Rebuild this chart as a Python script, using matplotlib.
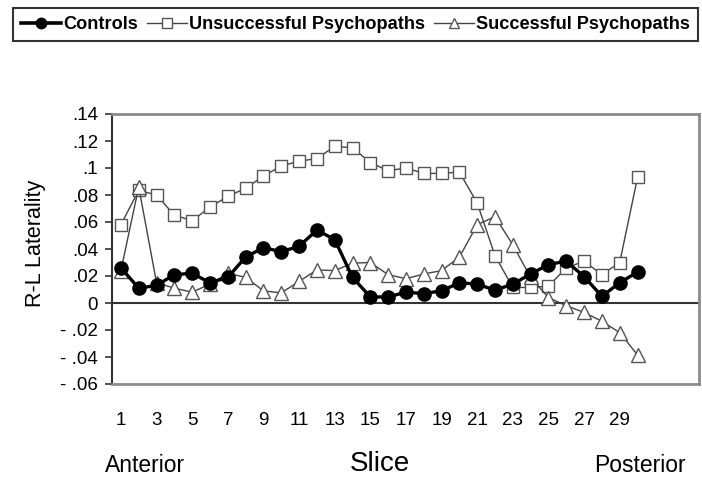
import matplotlib
matplotlib.use("Agg")
import matplotlib.pyplot as plt
from matplotlib.lines import Line2D
from matplotlib import font_manager

plt.rcParams['font.family'] = ['Liberation Sans', 'DejaVu Sans']

slices = list(range(1, 31))
controls = [0.026, 0.011, 0.013, 0.021, 0.022, 0.015, 0.019, 0.034, 0.041, 0.038,
            0.042, 0.054, 0.047, 0.019, 0.0045, 0.0045, 0.008, 0.007, 0.009, 0.015,
            0.014, 0.0095, 0.014, 0.0215, 0.0285, 0.031, 0.0195, 0.005, 0.015, 0.023]
unsuccessful = [0.058, 0.0835, 0.080, 0.065, 0.061, 0.071, 0.079, 0.085, 0.094, 0.1015,
                0.105, 0.107, 0.116, 0.115, 0.104, 0.098, 0.100, 0.096, 0.096, 0.097,
                0.074, 0.035, 0.0115, 0.0115, 0.0125, 0.026, 0.031, 0.021, 0.030, 0.093]
successful = [0.024, 0.086, 0.015, 0.011, 0.008, 0.014, 0.022, 0.019, 0.009, 0.0075,
              0.016, 0.0245, 0.024, 0.0295, 0.030, 0.021, 0.018, 0.0215, 0.024, 0.034,
              0.058, 0.064, 0.043, 0.019, 0.004, -0.002, -0.007, -0.0135, -0.022, -0.0385]
series_names = ["Controls", "Unsuccessful Psychopaths", "Successful Psychopaths"]
x_tick_values = list(range(1, 30, 2))
y_tick_values = [-0.06, -0.04, -0.02, 0, 0.02, 0.04, 0.06, 0.08, 0.10, 0.12, 0.14]
y_tick_labels = ['- .06', '- .04', '- .02', '0', '.02', '.04', '.06', '.08', '.1', '.12', '.14']

# pick a narrow font for the legend if installed
narrow_ok = False
try:
    fp = font_manager.findfont(font_manager.FontProperties(family='Liberation Sans Narrow', weight='bold'),
                               fallback_to_default=False)
    narrow_ok = 'Narrow' in fp
except Exception:
    narrow_ok = False
if narrow_ok:
    leg_prop = {'family': 'Liberation Sans Narrow', 'weight': 'bold', 'size': 15.8}
else:
    leg_prop = {'family': 'Liberation Sans', 'weight': 'bold', 'size': 13.1}

fig = plt.figure(figsize=(7.02, 4.78), dpi=100)
ax = fig.add_axes([112/702, 1-384/478, (699-112)/702, (384-114)/478])

gray_edge = '#555555'
ax.plot(slices, unsuccessful, color='#444444', lw=1.0, marker='s', ms=8.5,
        mfc='white', mec=gray_edge, mew=1.0, zorder=3)
ax.plot(slices, successful, color='#444444', lw=1.0, marker='^', ms=9.5,
        mfc='white', mec=gray_edge, mew=1.0, zorder=4)
ax.plot(slices, controls, color='black', lw=2.4, marker='o', ms=9.5,
        mfc='black', mec='black', zorder=5)

ax.axhline(0, color='#333333', lw=1.5, zorder=2)

ax.set_xlim(0.5, 33.45)
ax.set_ylim(-0.06, 0.14)
ax.set_yticks(y_tick_values)
ax.set_yticklabels(y_tick_labels, fontsize=13.5)
ax.set_xticks(x_tick_values)
ax.set_xticklabels([str(v) for v in x_tick_values], fontsize=13.5)
ax.tick_params(axis='x', length=0, pad=20)
ax.tick_params(axis='y', length=5, width=1.2, direction='out', pad=5, color='#333333')

for side in ['top', 'right', 'bottom']:
    ax.spines[side].set_color('#8c8c8c')
    ax.spines[side].set_linewidth(2.0)
ax.spines['left'].set_color('#333333')
ax.spines['left'].set_linewidth(1.5)

ax.set_ylabel('R-L Laterality', fontsize=15.5)
ax.yaxis.set_label_coords(-0.112, 0.52)

fig.text(105/702, 1-465/478, 'Anterior', fontsize=16.5, ha='left', va='center')
fig.text(380/702, 1-464/478, 'Slice', fontsize=20, ha='center', va='center')
fig.text(686/702, 1-465/478, 'Posterior', fontsize=16.5, ha='right', va='center')

handles = [
    Line2D([], [], color='black', lw=2.6, marker='o', ms=7.5, mfc='black', mec='black'),
    Line2D([], [], color='#444444', lw=1.0, marker='s', ms=6.5, mfc='white', mec=gray_edge),
    Line2D([], [], color='#444444', lw=1.0, marker='^', ms=7.5, mfc='white', mec=gray_edge),
]
leg = fig.legend(handles, series_names, loc='upper left', bbox_to_anchor=(13/702, 1-8/478),
                 ncol=3, frameon=True, fancybox=False, borderaxespad=0, borderpad=0.45,
                 handlelength=2.2, handletextpad=0.1, columnspacing=0.5,
                 prop=leg_prop)
leg.get_frame().set_edgecolor('black')
leg.get_frame().set_linewidth(1.5)

fig.savefig('out.png', dpi=100)
